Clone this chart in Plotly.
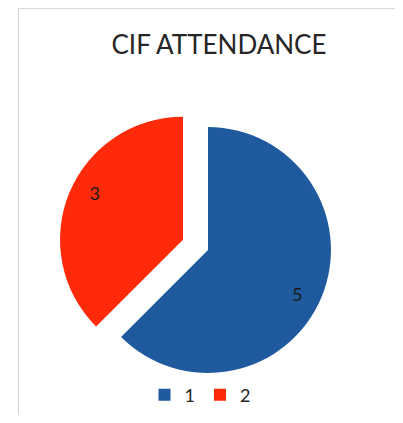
import plotly.graph_objects as go

categories = ["1", "2"]
values = [5, 3]
colors = ["#1f5a9e", "#ff2a0a"]
title_text = "CIF ATTENDANCE"

OFF = 8  # page body margin of the html page
W, H = 403 - 2 * OFF, 423 - 2 * OFF


def px_x(p):
    return (p - OFF) / W


def px_y(p):
    return 1 - (p - OFF) / H


domain = dict(x=[px_x(58), px_x(358)], y=[px_y(400), px_y(100)])
pulls = [0, 0.22]

fig = go.Figure()
# main pie (slices + legend)
fig.add_trace(
    go.Pie(
        labels=categories,
        values=values,
        sort=False,
        direction="clockwise",
        rotation=0,
        pull=pulls,
        marker=dict(colors=colors, line=dict(width=0)),
        textinfo="none",
        domain=domain,
        hoverinfo="label+value",
    )
)
# transparent ring overlay that carries the value labels further out
fig.add_trace(
    go.Pie(
        labels=categories,
        values=values,
        sort=False,
        direction="clockwise",
        rotation=4,
        pull=pulls,
        hole=0.62,
        marker=dict(colors=["rgba(0,0,0,0)"] * len(values), line=dict(width=0)),
        textinfo="value",
        textposition="inside",
        insidetextorientation="horizontal",
        textfont=dict(family="Lato, sans-serif", size=18, color="#1a1a1a"),
        domain=domain,
        showlegend=False,
        hoverinfo="skip",
    )
)

x0 = px_x(18.5)
y1 = px_y(8.6)
fig.update_layout(
    width=W,
    height=H,
    margin=dict(l=0, r=0, t=0, b=0),
    paper_bgcolor="white",
    plot_bgcolor="white",
    title=dict(
        text=title_text,
        x=px_x(219),
        xanchor="center",
        y=px_y(45),
        yanchor="middle",
        font=dict(family="Lato, sans-serif", size=26, color="#262626"),
    ),
    legend=dict(
        orientation="h",
        x=px_x(200),
        xanchor="center",
        y=px_y(395),
        yanchor="middle",
        font=dict(family="Lato, sans-serif", size=18, color="#262626"),
        itemwidth=30,
    ),
    shapes=[
        dict(
            type="path",
            xref="paper",
            yref="paper",
            path=f"M {x0},-0.2 L {x0},{y1} L 1.2,{y1}",
            line=dict(color="#d4d4d4", width=1),
            layer="below",
        )
    ],
)

fig.write_html("out.html")
